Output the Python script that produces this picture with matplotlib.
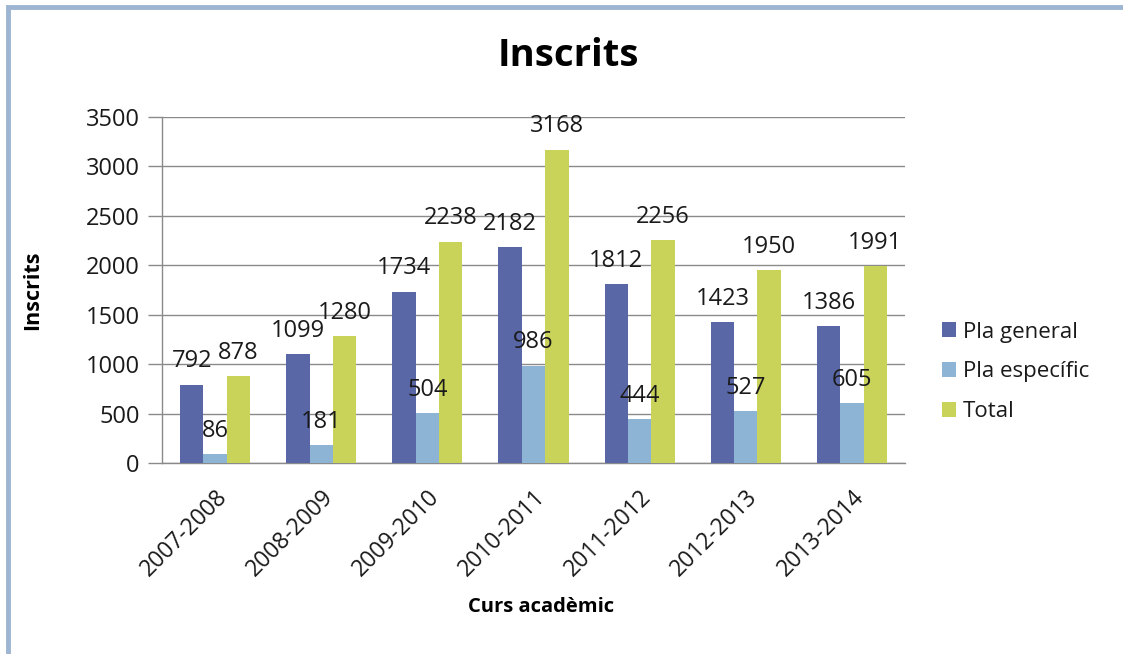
import matplotlib
matplotlib.use("Agg")
import matplotlib.pyplot as plt
import numpy as np
from matplotlib.patches import Rectangle

cursos = ["2007-2008", "2008-2009", "2009-2010", "2010-2011",
          "2011-2012", "2012-2013", "2013-2014"]
pla_general = [792, 1099, 1734, 2182, 1812, 1423, 1386]
pla_especific = [86, 181, 504, 986, 444, 527, 605]
total = [878, 1280, 2238, 3168, 2256, 1950, 1991]
series_names = ["Pla general", "Pla específic", "Total"]
y_ticks = [0, 500, 1000, 1500, 2000, 2500, 3000, 3500]

colors = ["#5A67A6", "#8DB3D5", "#C9D35A"]
FONT = "Open Sans"

W, H = 1123, 654
fig = plt.figure(figsize=(W / 100, H / 100), dpi=100)
fig.patch.set_facecolor("white")

# frame border (top and left visible)
fig.add_artist(Rectangle((8 / W, -0.1), 1.2, 1 - 6.5 / H + 0.1, transform=fig.transFigure,
                         fill=False, edgecolor="#9DB5D2", linewidth=3.5))

ax = fig.add_axes([162 / W, 1 - 463 / H, (905 - 162) / W, (463 - 117) / H])
x = np.arange(len(cursos))
bw = 0.22
for i, (vals, name, c) in enumerate(zip([pla_general, pla_especific, total], series_names, colors)):
    bars = ax.bar(x + (i - 1) * bw, vals, width=bw, color=c, label=name, zorder=3)
    for b, v in zip(bars, vals):
        ax.annotate(str(v), (b.get_x() + b.get_width() / 2, v), xytext=(0, 12.5),
                    textcoords="offset points", ha="center", va="baseline",
                    fontsize=17, family=FONT, color="#1a1a1a", zorder=5)

ax.set_xlim(-0.5, len(cursos) - 0.5)
ax.set_ylim(0, 3500)
ax.set_yticks(y_ticks)
ax.set_yticklabels([str(t) for t in y_ticks], fontsize=17, family=FONT, color="#1a1a1a")
ax.yaxis.grid(True, color="#8a8a8a", linewidth=1.0, zorder=0)
ax.set_axisbelow(True)
ax.tick_params(axis="y", length=10, color="#8a8a8a", width=1.0, pad=6)
ax.set_xticks(x)
ax.set_xticklabels(cursos, rotation=45, ha="right", rotation_mode="anchor",
                   fontsize=16.5, family=FONT, color="#1a1a1a")
ax.tick_params(axis="x", length=0, pad=16)
for s in ["top", "right"]:
    ax.spines[s].set_visible(False)
for s in ["left", "bottom"]:
    ax.spines[s].set_color("#8a8a8a")
    ax.spines[s].set_linewidth(1.0)

fig.text(568 / W, 1 - 56 / H, "Inscrits", ha="center", va="center",
         fontsize=27.5, fontweight="bold", family=FONT, color="black")
fig.text(33 / W, 1 - 290 / H, "Inscrits", ha="center", va="center", rotation=90,
         fontsize=15.5, fontweight="bold", family=FONT, color="black")
fig.text(541 / W, 1 - 607 / H, "Curs acadèmic", ha="center", va="center",
         fontsize=14.5, fontweight="bold", family=FONT, color="black")

leg = fig.legend(loc="center left", bbox_to_anchor=(922 / W, 1 - 372 / H),
                 frameon=False, prop={"family": FONT, "size": 16},
                 handlelength=0.65, handleheight=0.65, handletextpad=0.3,
                 labelspacing=0.85)
for t in leg.get_texts():
    t.set_color("#1a1a1a")

fig.savefig("out.png", dpi=100, facecolor="white")
